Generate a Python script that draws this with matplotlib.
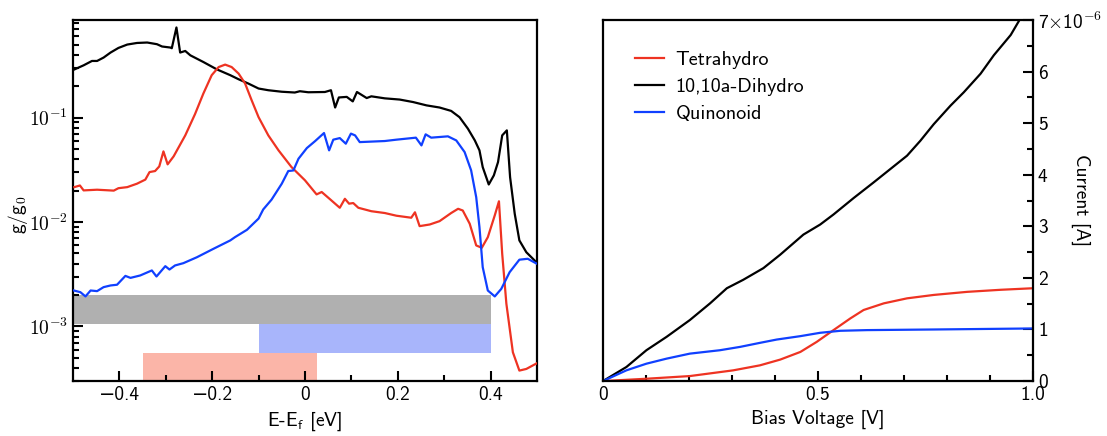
import math
import matplotlib
matplotlib.use("Agg")
import matplotlib.pyplot as plt
from matplotlib.ticker import FixedLocator, MultipleLocator, FuncFormatter, LogLocator, NullFormatter

plt.rcParams['font.family'] = ['cmss10', 'DejaVu Sans']
plt.rcParams['mathtext.fontset'] = 'cm'
plt.rcParams['axes.unicode_minus'] = True

# ---------------- data: left panel (transmission g/g0 vs E-Ef) ----------------
E_black = [-0.498, -0.477, -0.459, -0.448, -0.434, -0.419, -0.402, -0.383, -0.362, -0.340,
           -0.319, -0.308, -0.290, -0.287, -0.277, -0.269, -0.258, -0.247, -0.219, -0.190,
           -0.161, -0.143, -0.122, -0.100, -0.079, -0.050, -0.022, -0.011, 0.007, 0.043,
           0.056, 0.065, 0.073, 0.090, 0.103, 0.112, 0.133, 0.143, 0.172, 0.204,
           0.233, 0.262, 0.290, 0.315, 0.333, 0.351, 0.366, 0.376, 0.383, 0.396,
           0.407, 0.416, 0.425, 0.435, 0.442, 0.452, 0.462, 0.477, 0.495, 0.500]
g_black = [0.288, 0.317, 0.349, 0.349, 0.376, 0.420, 0.465, 0.501, 0.519, 0.524,
           0.505, 0.480, 0.469, 0.462, 0.730, 0.420, 0.435, 0.395, 0.341, 0.290,
           0.255, 0.233, 0.212, 0.190, 0.183, 0.177, 0.174, 0.179, 0.175, 0.176,
           0.183, 0.125, 0.156, 0.158, 0.143, 0.176, 0.154, 0.160, 0.153, 0.149,
           0.141, 0.131, 0.125, 0.116, 0.101, 0.0785, 0.0605, 0.0486, 0.0336, 0.0229,
           0.0280, 0.0375, 0.0676, 0.0755, 0.0269, 0.0120, 0.00667, 0.00514, 0.00428, 0.0040]

E_red = [-0.497, -0.485, -0.477, -0.448, -0.412, -0.402, -0.383, -0.362, -0.344, -0.335,
         -0.323, -0.314, -0.305, -0.296, -0.283, -0.258, -0.237, -0.219, -0.201, -0.186,
         -0.172, -0.158, -0.143, -0.129, -0.115, -0.100, -0.079, -0.057, -0.029, 0.000,
         0.025, 0.036, 0.057, 0.075, 0.086, 0.095, 0.104, 0.115, 0.143, 0.172,
         0.197, 0.229, 0.237, 0.247, 0.269, 0.290, 0.315, 0.330, 0.340, 0.355,
         0.369, 0.381, 0.394, 0.409, 0.418, 0.425, 0.434, 0.448, 0.462, 0.477, 0.500]
g_red = [0.0216, 0.0224, 0.0201, 0.0204, 0.0200, 0.0211, 0.0216, 0.0233, 0.0255, 0.0301,
         0.0308, 0.0341, 0.0475, 0.0357, 0.0426, 0.0676, 0.108, 0.170, 0.255, 0.305,
         0.322, 0.305, 0.264, 0.212, 0.147, 0.101, 0.0676, 0.0486, 0.0336, 0.0251,
         0.0184, 0.0194, 0.0161, 0.0137, 0.0167, 0.0150, 0.0152, 0.0137, 0.0127, 0.0122,
         0.0115, 0.0110, 0.0124, 0.00914, 0.00948, 0.0102, 0.0122, 0.0134, 0.0129, 0.00963,
         0.00597, 0.00567, 0.00716, 0.0116, 0.0158, 0.00497, 0.00165, 0.000566, 0.000378, 0.000392, 0.000445]

E_blue = [-0.498, -0.484, -0.473, -0.462, -0.448, -0.434, -0.419, -0.405, -0.387, -0.376,
          -0.355, -0.330, -0.320, -0.301, -0.292, -0.280, -0.262, -0.233, -0.197, -0.161,
          -0.151, -0.125, -0.100, -0.090, -0.072, -0.050, -0.036, -0.025, -0.014, 0.004,
          0.022, 0.041, 0.052, 0.061, 0.075, 0.088, 0.099, 0.108, 0.118, 0.172,
          0.197, 0.239, 0.251, 0.260, 0.272, 0.308, 0.326, 0.344, 0.358, 0.369,
          0.376, 0.383, 0.394, 0.409, 0.423, 0.441, 0.462, 0.480, 0.500]
g_blue = [0.00221, 0.00213, 0.00194, 0.00221, 0.00218, 0.00238, 0.00247, 0.00251, 0.00305, 0.00292,
          0.00308, 0.00344, 0.00301, 0.00378, 0.00351, 0.00384, 0.00404, 0.00460, 0.00555, 0.00667,
          0.00716, 0.00843, 0.0108, 0.0132, 0.0164, 0.0233, 0.0308, 0.0312, 0.0404, 0.0511,
          0.0597, 0.0712, 0.0486, 0.0615, 0.0637, 0.0563, 0.0703, 0.0676, 0.0583, 0.0597,
          0.0615, 0.0643, 0.0542, 0.0692, 0.0643, 0.0662, 0.0605, 0.0468, 0.0313, 0.0173,
          0.00893, 0.00370, 0.00221, 0.00194, 0.00229, 0.00331, 0.00436, 0.00445, 0.00398]

# bias-window bands (E range, g range)
band_left = [-0.5, -0.1, -0.35]
band_right = [0.40, 0.40, 0.025]
band_low = [1.05e-3, 5.6e-4, 3.0e-4]
band_high = [2.0e-3, 1.05e-3, 5.6e-4]
band_colors = ['#b0b0b0', '#a8b5fb', '#fbb5a8']

# ---------------- data: right panel (I-V) ----------------
V_black = [0.0, 0.0545, 0.101, 0.148, 0.202, 0.249, 0.288, 0.326, 0.373, 0.412,
           0.466, 0.505, 0.536, 0.583, 0.629, 0.668, 0.707, 0.738, 0.769, 0.808,
           0.839, 0.878, 0.909, 0.948, 0.967, 0.985]
I_black = [0.0, 0.273, 0.598, 0.858, 1.183, 1.507, 1.80, 1.963, 2.19, 2.45,
           2.84, 3.035, 3.23, 3.55, 3.85, 4.11, 4.37, 4.66, 4.98, 5.34,
           5.60, 5.96, 6.32, 6.71, 6.98, 7.25]

V_red = [0.0, 0.101, 0.202, 0.303, 0.365, 0.412, 0.459, 0.497, 0.536, 0.575,
         0.606, 0.653, 0.707, 0.769, 0.847, 0.925, 1.0]
I_red = [0.0, 0.045, 0.097, 0.208, 0.305, 0.416, 0.565, 0.760, 0.988, 1.214,
         1.378, 1.507, 1.604, 1.67, 1.73, 1.77, 1.80]

V_blue = [0.0, 0.0545, 0.101, 0.148, 0.202, 0.272, 0.319, 0.365, 0.404, 0.459,
          0.505, 0.552, 0.614, 0.769, 1.0]
I_blue = [0.0, 0.208, 0.337, 0.435, 0.532, 0.598, 0.663, 0.741, 0.805, 0.871,
          0.936, 0.975, 0.988, 1.00, 1.02]

labels = ['Tetrahydro', '10,10a-Dihydro', 'Quinonoid']
c_red, c_black, c_blue = '#ee3322', '#000000', '#1040ff'

fig = plt.figure(figsize=(11.07, 4.36), dpi=100)
ax1 = fig.add_axes([0.0659, 0.126, 0.4192, 0.828])
ax2 = fig.add_axes([0.5447, 0.126, 0.3885, 0.828])

lw = 1.6
# left panel
for l, r, lo, hi, c in zip(band_left, band_right, band_low, band_high, band_colors):
    ax1.fill_between([l, r], [lo, lo], [hi, hi], color=c, lw=0, zorder=1)
ax1.plot(E_black, g_black, color=c_black, lw=lw, zorder=3)
ax1.plot(E_red, g_red, color=c_red, lw=lw, zorder=3)
ax1.plot(E_blue, g_blue, color=c_blue, lw=lw, zorder=3)
ax1.set_yscale('log')
ax1.set_xlim(-0.5, 0.5)
ax1.set_ylim(3.0e-4, 0.86)
ax1.xaxis.set_major_locator(FixedLocator([-0.4, -0.2, 0.0, 0.2, 0.4]))
ax1.xaxis.set_minor_locator(FixedLocator([-0.3, -0.1, 0.1, 0.3]))
ax1.xaxis.set_major_formatter(FuncFormatter(lambda v, p: '0' if abs(v) < 1e-9 else ('%.1f' % v).replace('-', '\u2212')))
ax1.yaxis.set_major_locator(LogLocator(base=10, numticks=10))
ax1.yaxis.set_minor_locator(LogLocator(base=10, subs=range(2, 10), numticks=20))
ax1.yaxis.set_minor_formatter(NullFormatter())
ax1.yaxis.set_major_formatter(FuncFormatter(lambda v, p: r'$10^{%d}$' % round(math.log10(v))))
ax1.tick_params(which='both', direction='in', top=False, right=False, labelsize=14, width=1.5)
ax1.tick_params(which='major', length=7)
ax1.tick_params(which='minor', length=4)
ax1.set_xlabel(r'E-E$_\mathsf{f}$ [eV]', fontsize=14, labelpad=4)
ax1.set_ylabel(r'g/g$_\mathsf{0}$', fontsize=14, labelpad=0)
ax1.yaxis.set_label_coords(-0.093, 0.46)

# right panel
ax2.plot(V_red, I_red, color=c_red, lw=lw, label=labels[0])
ax2.plot(V_black, I_black, color=c_black, lw=lw, label=labels[1])
ax2.plot(V_blue, I_blue, color=c_blue, lw=lw, label=labels[2])
ax2.set_xlim(0, 1.0)
ax2.set_ylim(0, 7.0)
ax2.yaxis.tick_right()
ax2.yaxis.set_label_position('right')
ax2.xaxis.set_major_locator(FixedLocator([0, 0.5, 1.0]))
ax2.xaxis.set_minor_locator(MultipleLocator(0.1))
ax2.xaxis.set_major_formatter(FuncFormatter(lambda v, p: '0' if abs(v) < 1e-9 else '%.1f' % v))
ax2.yaxis.set_major_locator(MultipleLocator(1))
ax2.yaxis.set_minor_locator(MultipleLocator(0.5))
ax2.yaxis.set_major_formatter(FuncFormatter(
    lambda v, p: r'7$\times$10$^{\mathsf{-6}}$' if round(v) == 7 else '%d' % round(v)))
ax2.tick_params(which='both', direction='in', top=False, left=False, right=True, labelsize=14, width=1.5)
ax2.tick_params(which='major', length=7)
ax2.tick_params(which='minor', length=4)
ax2.set_xlabel('Bias Voltage [V]', fontsize=14, labelpad=4)
ax2.set_ylabel('Current [A]', fontsize=14, rotation=270, va='center', ha='center')
ax2.yaxis.set_label_coords(1.11, 0.5)
ax2.legend(loc='upper left', bbox_to_anchor=(0.075, 0.915), frameon=False, fontsize=14.5,
           handlelength=1.45, handletextpad=0.55, labelspacing=0.45, borderaxespad=0, borderpad=0)

for ax in (ax1, ax2):
    for s in ax.spines.values():
        s.set_linewidth(1.6)

fig.savefig('out.png', dpi=100)
